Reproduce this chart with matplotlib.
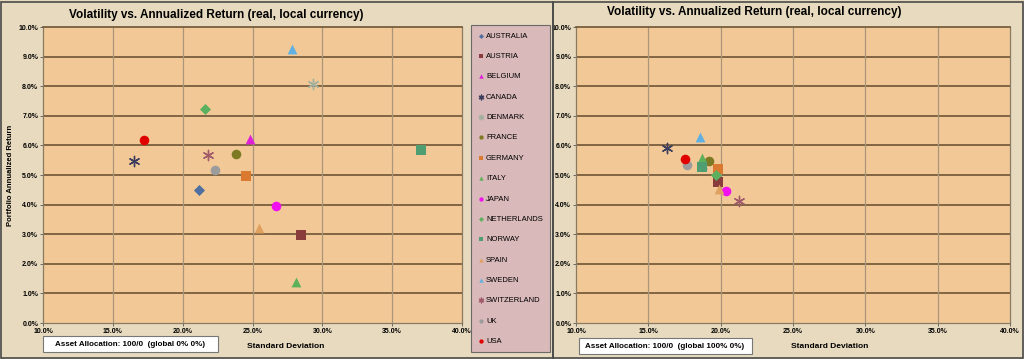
import numpy as np
import matplotlib
matplotlib.use("Agg")
import matplotlib.pyplot as plt
import matplotlib.patches as patches
from matplotlib.ticker import PercentFormatter, MultipleLocator

plt.rcParams['font.family'] = ['Liberation Sans', 'DejaVu Sans']

countries = ['AUSTRALIA', 'AUSTRIA', 'BELGIUM', 'CANADA', 'DENMARK', 'FRANCE',
             'GERMANY', 'ITALY', 'JAPAN', 'NETHERLANDS', 'NORWAY', 'SPAIN',
             'SWEDEN', 'SWITZERLAND', 'UK', 'USA']

# global 0% 0% (each country on its own)
left_sd = [21.2, 28.5, 24.8, 16.5, 29.3, 23.8, 24.5, 28.1, 26.7, 21.6, 37.1, 25.5, 27.8, 21.8, 22.3, 17.2]
left_ret = [4.50, 2.96, 6.20, 5.47, 8.07, 5.72, 4.97, 1.38, 3.96, 7.23, 5.84, 3.21, 9.25, 5.68, 5.18, 6.18]

# global 100% 0%
right_sd = [18.7, 19.8, 18.7, 16.3, 18.7, 19.2, 19.8, 18.7, 20.4, 19.7, 18.7, 19.9, 18.6, 21.3, 17.7, 17.5]
right_ret = [5.35, 4.75, 5.40, 5.92, 5.30, 5.47, 5.20, 5.56, 4.47, 5.00, 5.28, 4.53, 6.29, 4.12, 5.34, 5.54]

colors = ['#4F6FA0', '#8A3B3B', '#E020D8', '#3C3C5C', '#A3B09E', '#7E7A24',
          '#D97A30', '#5FB05A', '#F010F0', '#5CB060', '#4E9E72', '#E0A060',
          '#62B0E2', '#A05A6A', '#9C9C9C', '#E00000']
star = (6, 2, 0)
markers = ['D', 's', '^', star, star, 'o', 's', '^', 'o', 'D', 's', '^', '^', star, 'o', 'o']
sizes = [32, 48, 50, 55, 55, 48, 48, 50, 48, 32, 48, 50, 50, 55, 48, 48]

bg = '#E7DABE'
plot_bg = '#F2C996'

fig = plt.figure(figsize=(10.24, 3.59), dpi=100, facecolor=bg)
W, H = 1024.0, 359.0

def px_rect(x0, y0, x1, y1):
    return [x0 / W, 1 - y1 / H, (x1 - x0) / W, (y1 - y0) / H]

ax1 = fig.add_axes(px_rect(43, 27, 462, 323))
ax2 = fig.add_axes(px_rect(576, 27, 1010, 323))

for ax, xs, ys in [(ax1, left_sd, left_ret), (ax2, right_sd, right_ret)]:
    ax.set_facecolor(plot_bg)
    for i, c in enumerate(countries):
        ax.scatter(xs[i], ys[i], marker=markers[i], s=sizes[i], color=colors[i],
                   linewidths=1.0 if markers[i] == star else 0, label=c, zorder=3)
    ax.set_xlim(10, 40)
    ax.set_ylim(0, 10)
    ax.xaxis.set_major_locator(MultipleLocator(5))
    ax.yaxis.set_major_locator(MultipleLocator(1))
    ax.xaxis.set_major_formatter(PercentFormatter(decimals=1))
    ax.yaxis.set_major_formatter(PercentFormatter(decimals=1))
    ax.tick_params(length=2, width=0.6, color='#555555', labelsize=5, pad=1.5)
    for lab in ax.get_xticklabels() + ax.get_yticklabels():
        lab.set_fontweight('bold')
    ax.grid(False)
    for yv in range(1, 10):
        ax.axhline(yv, color='#6E5535', lw=1.2, zorder=1)
    for xv in range(15, 40, 5):
        ax.axvline(xv, color='#A8957C', lw=0.9, zorder=1)
    for sp in ax.spines.values():
        sp.set_color('#8A7A62')
        sp.set_linewidth(0.9)
    ax.spines['top'].set_color('#6E5535')
    ax.spines['top'].set_linewidth(1.2)

ax1.set_ylabel('Portfolio Annualized Return', fontsize=5.5, fontweight='bold', labelpad=3)

title = 'Volatility vs. Annualized Return (real, local currency)'
fig.text(216 / W, 1 - 15 / H, title, ha='center', va='center', fontsize=8.5, fontweight='bold')
fig.text(754 / W, 1 - 12 / H, title, ha='center', va='center', fontsize=8.5, fontweight='bold')

fig.text(286 / W, 1 - 346 / H, 'Standard Deviation', ha='center', va='center', fontsize=6, fontweight='bold')
fig.text(830 / W, 1 - 346 / H, 'Standard Deviation', ha='center', va='center', fontsize=6, fontweight='bold')

# allocation boxes
fig.add_artist(patches.Rectangle(((43) / W, 1 - 352 / H), 175 / W, 16 / H, transform=fig.transFigure,
                                 facecolor='white', edgecolor='#777777', lw=0.8))
fig.text(130 / W, 1 - 344 / H, 'Asset Allocation: 100/0  (global 0% 0%)', ha='center', va='center',
         fontsize=5.8, fontweight='bold')
fig.add_artist(patches.Rectangle(((579) / W, 1 - 354 / H), 173 / W, 16 / H, transform=fig.transFigure,
                                 facecolor='white', edgecolor='#777777', lw=0.8))
fig.text(665 / W, 1 - 346 / H, 'Asset Allocation: 100/0  (global 100% 0%)', ha='center', va='center',
         fontsize=5.8, fontweight='bold')

# panel borders
fig.add_artist(patches.Rectangle((1 / W, 1 / H), 552 / W, 356 / H, transform=fig.transFigure,
                                 facecolor='none', edgecolor='#4A4A4A', lw=1.2))
fig.add_artist(patches.Rectangle((553 / W, 1 / H), 470 / W, 356 / H, transform=fig.transFigure,
                                 facecolor='none', edgecolor='#4A4A4A', lw=1.2))

handles, labels = ax1.get_legend_handles_labels()
leg = fig.legend(handles, labels, loc='upper left', bbox_to_anchor=(471 / W, 1 - 25 / H),
                 fontsize=5.5, markerscale=0.45, frameon=True, fancybox=False,
                 labelspacing=1.705, handlelength=0.6, handletextpad=0.4, borderpad=0.95,
                 borderaxespad=0)
leg.get_frame().set_facecolor('#D9B9B9')
leg.get_frame().set_edgecolor('#6A6A6A')
leg.get_frame().set_linewidth(0.8)
leg.get_frame().set_alpha(1)

plt.savefig('out.png', dpi=100, facecolor=bg)
